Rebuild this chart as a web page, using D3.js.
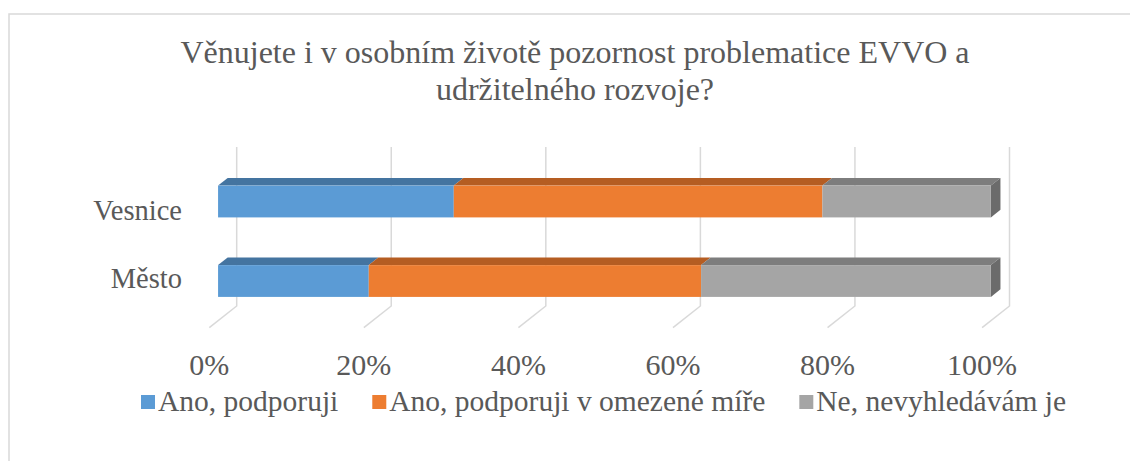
<!DOCTYPE html>
<html lang="cs">
<head>
  <meta charset="UTF-8">
  <title>Věnujete i v osobním životě pozornost problematice EVVO</title>
  <script src="https://d3js.org/d3.v7.min.js"></script>
  <style>
    body { margin: 0; background: #fff; }
    svg { display: block; }
    svg text { font-family: 'Liberation Serif', Tinos, 'Times New Roman', 'DejaVu Serif', serif; }
  </style>
</head>
<body>
  <div id="chart"></div>

  <script>
    // data (percent of respondents)
    const categories = ["Vesnice", "Město"];
    const seriesNames = ["Ano, podporuji", "Ano, podporuji v omezené míře", "Ne, nevyhledávám je"];
    const anoPodporuji = [30.5, 19.5];
    const omezeneMire = [47.7, 43.0];
    const nevyhledavam = [21.8, 37.5];
    const tickValues = [0, 20, 40, 60, 80, 100];
    const titleLines = ["Věnujete i v osobním životě pozornost problematice EVVO a", "udržitelného rozvoje?"];

    const colors = ["#5b9bd5", "#ed7d31", "#a5a5a5"];
    const topColors = ["#4474a0", "#b55d22", "#7d7d7d"];
    const sideColor = "#6b6b6b";
    const textColor = "#595959";
    const gridColor = "#d9d9d9";
    const serif = "'Liberation Serif', Tinos, 'Times New Roman', 'DejaVu Serif', serif";

    const width = 1130, height = 461;
    const svg = d3.select("#chart").append("svg")
      .attr("width", width)
      .attr("height", height)
      .attr("font-family", serif);

    // chart frame (runs off the right and bottom edge)
    svg.append("rect")
      .attr("x", 9).attr("y", 14)
      .attr("width", 1140).attr("height", 470)
      .attr("fill", "#fff")
      .attr("stroke", gridColor)
      .attr("stroke-width", 1.5);

    // title
    svg.append("text")
      .attr("text-anchor", "middle")
      .attr("fill", textColor)
      .attr("font-size", 32)
      .selectAll("tspan")
      .data(titleLines)
      .join("tspan")
      .attr("x", 575)
      .attr("y", (d, i) => 63 + i * 37)
      .text(d => d);

    // 3D projection: back wall -> front edge offset
    const depthX = -27.4, depthY = 21.7;
    const fBack = 0.33, fFront = 0.68;

    const x = d3.scaleLinear().domain([0, 100]).range([236.7, 1009.5]);
    const y = d3.scaleBand().domain(categories).range([147, 306]);
    const barH = y.bandwidth() * 0.4;
    const floorY = y.range()[1];

    // gridlines on back wall + floor
    const grid = svg.append("g").attr("stroke", gridColor).attr("stroke-width", 1.5).attr("fill", "none");
    grid.selectAll("path")
      .data(tickValues)
      .join("path")
      .attr("d", d => `M${x(d)},${y.range()[0]}V${floorY}l${depthX},${depthY}`);

    // stacked bars
    const rows = categories.map((c, i) => ({
      cat: c, s0: anoPodporuji[i], s1: omezeneMire[i], s2: nevyhledavam[i]
    }));
    const stack = d3.stack().keys(["s0", "s1", "s2"]);
    const layers = stack(rows);

    const bx = fFront * depthX, by = fFront * depthY;   // front face offset
    const kx = fBack * depthX, ky = fBack * depthY;     // back face offset

    layers.forEach((layer, si) => {
      const g = svg.append("g");
      layer.forEach(d => {
        const cat = d.data.cat;
        const x0 = x(d[0]), x1 = x(d[1]);
        const top = y(cat) + (y.bandwidth() - barH) / 2;
        const bot = top + barH;

        // top face
        g.append("path")
          .attr("fill", topColors[si])
          .attr("d", `M${x0 + bx},${top + by}L${x1 + bx},${top + by}L${x1 + kx},${top + ky}L${x0 + kx},${top + ky}Z`);

        // right side face on the last segment
        if (si === layers.length - 1) {
          g.append("path")
            .attr("fill", sideColor)
            .attr("d", `M${x1 + bx},${top + by}L${x1 + kx},${top + ky}L${x1 + kx},${bot + ky}L${x1 + bx},${bot + by}Z`);
        }

        // front face
        g.append("rect")
          .attr("x", x0 + bx)
          .attr("y", top + by)
          .attr("width", x1 - x0)
          .attr("height", barH)
          .attr("fill", colors[si]);
      });
    });

    // category labels
    const labelY = d3.scaleBand().domain(categories).range([175.75, 312.75]);
    svg.append("g")
      .attr("fill", textColor)
      .attr("font-size", 28.5)
      .attr("text-anchor", "end")
      .selectAll("text")
      .data(categories)
      .join("text")
      .attr("x", 182)
      .attr("y", d => labelY(d) + labelY.bandwidth() / 2 + 9.5)
      .text(d => d);

    // value axis labels at the front floor edge
    svg.append("g")
      .attr("fill", textColor)
      .attr("font-size", 30)
      .attr("text-anchor", "middle")
      .selectAll("text")
      .data(tickValues)
      .join("text")
      .attr("x", d => x(d) + depthX)
      .attr("y", 375)
      .text(d => d + "%");

    // legend
    const legend = svg.append("g").attr("font-size", 29.5).attr("fill", textColor);
    let lx = 141;
    seriesNames.forEach((name, i) => {
      legend.append("rect")
        .attr("x", lx).attr("y", 395)
        .attr("width", 14).attr("height", 14)
        .attr("fill", colors[i]);
      const t = legend.append("text")
        .attr("x", lx + 17)
        .attr("y", 411)
        .text(name);
      lx += 17 + t.node().getComputedTextLength() + 34;
    });
  </script>
</body>
</html>
